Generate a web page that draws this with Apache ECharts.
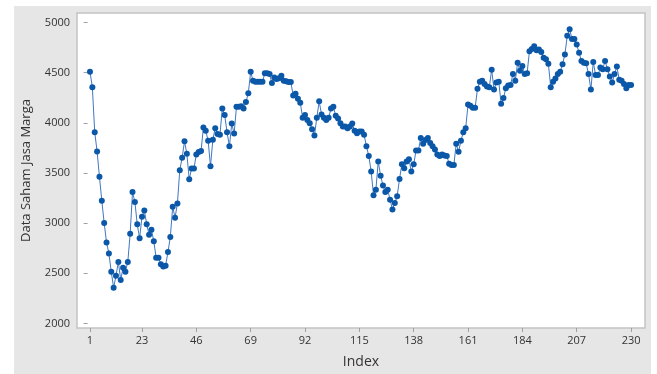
<!DOCTYPE html>
<html>
<head>
<meta charset="utf-8">
<script src="https://cdn.jsdelivr.net/npm/echarts@6/dist/echarts.min.js"></script>
<style>
html,body{margin:0;padding:0;background:#ffffff;}
#chart{width:657px;height:374px;}
</style>
</head>
<body>
<div id="chart"></div>
<script>
const values = [
4508,4355,3907,3715,3463,3224,3002,2806,2698,2515,
2355,2476,2613,2433,2554,2515,2613,2895,3309,3211,
2989,2848,3064,3126,2989,2884,2933,2819,2655,2655,
2590,2567,2575,2711,2861,3162,3054,3195,3528,3652,
3816,3691,3437,3544,3544,3685,3708,3718,3953,3920,
3822,3567,3832,3946,3888,3881,4142,4077,3907,3767,
3992,3894,4159,4159,4165,4142,4208,4296,4508,4420,
4410,4410,4410,4410,4495,4495,4486,4397,4453,4437,
4445,4469,4420,4415,4407,4407,4273,4290,4240,4201,
4051,4077,4028,3995,3937,3874,4051,4214,4084,4051,
4028,4051,4142,4159,4071,4044,3995,3963,3963,3946,
3963,3992,3920,3897,3913,3913,3881,3767,3669,3515,
3277,3332,3613,3473,3375,3309,3332,3234,3136,3201,
3267,3440,3587,3548,3613,3636,3515,3587,3724,3724,
3848,3790,3829,3848,3799,3767,3734,3685,3669,3685,
3675,3669,3593,3580,3580,3790,3711,3822,3907,3946,
4182,4169,4149,4149,4339,4410,4420,4388,4361,4355,
4528,4332,4403,4410,4191,4247,4345,4371,4377,4486,
4420,4600,4518,4567,4486,4495,4714,4737,4763,4724,
4730,4705,4649,4633,4590,4355,4410,4443,4486,4508,
4584,4682,4868,4933,4835,4835,4780,4698,4616,4600,
4593,4486,4332,4607,4476,4476,4551,4535,4616,4535,
4463,4403,4486,4561,4430,4420,4388,4345,4377,4377
];
const xTicks = [1,23,46,69,92,115,138,161,184,207,230];
const yTicks = [2000,2500,3000,3500,4000,4500,5000];
const xTitle = 'Index';
const yTitle = 'Data Saham Jasa Marga';

const seriesData = values.map((v, i) => [i + 1, v]);

const chart = echarts.init(document.getElementById('chart'), null, {renderer: 'canvas'});
const labelFont = {color: '#333333', fontSize: 11, fontFamily: 'Open Sans'};
chart.setOption({
  backgroundColor: '#ffffff',
  animation: false,
  graphic: [{
    type: 'rect', z: -10, silent: true,
    shape: {x: 14, y: 6, width: 637, height: 368},
    style: {fill: '#e6e6e6'}
  }],
  grid: {
    left: 77, right: 12, top: 13, bottom: 41,
    show: true, backgroundColor: '#ffffff',
    borderColor: '#c4c4c4', borderWidth: 1.5
  },
  xAxis: {
    type: 'value', min: -4.5, max: 235.9,
    name: xTitle, nameLocation: 'middle', nameGap: 27,
    nameTextStyle: {color: '#333333', fontSize: 14, fontFamily: 'Open Sans'},
    axisLine: {show: false},
    splitLine: {show: false},
    axisTick: {show: true, customValues: xTicks, length: 4, lineStyle: {color: '#a0a0a0'}},
    axisLabel: Object.assign({customValues: xTicks, margin: 7, formatter: v => String(v)}, labelFont)
  },
  yAxis: {
    type: 'value', min: 1954, max: 5095,
    name: yTitle, nameLocation: 'middle', nameGap: 44, nameRotate: 90,
    nameTextStyle: {color: '#333333', fontSize: 13, fontFamily: 'Open Sans'},
    axisLine: {show: false},
    splitLine: {show: false},
    axisTick: {show: true, customValues: yTicks, length: 4, lineStyle: {color: '#a0a0a0'}},
    axisLabel: Object.assign({customValues: yTicks, margin: 7, formatter: v => String(v)}, labelFont)
  },
  series: [{
    type: 'line',
    data: seriesData,
    symbol: 'circle', symbolSize: 6,
    lineStyle: {color: '#3f78c2', width: 1},
    itemStyle: {color: '#0b57a8'}
  }]
});
</script>
</body>
</html>
